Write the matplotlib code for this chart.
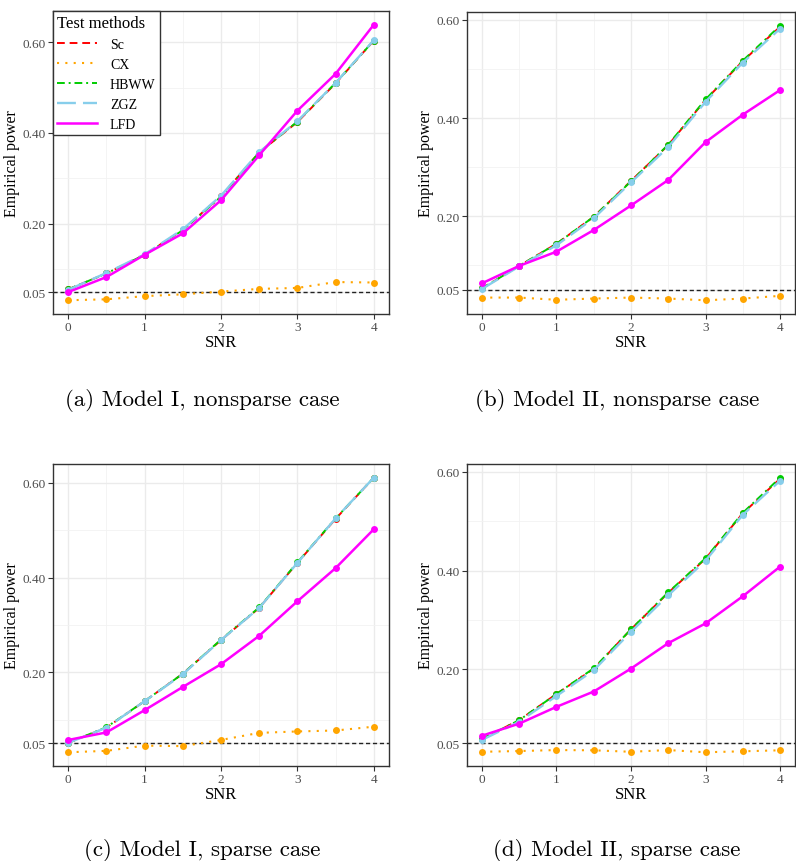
import numpy as np
import matplotlib
matplotlib.use("Agg")
import matplotlib.pyplot as plt
from matplotlib.ticker import MultipleLocator, FixedLocator

plt.rcParams['font.family'] = ['Liberation Serif', 'DejaVu Serif']

snr = [0, 0.5, 1, 1.5, 2, 2.5, 3, 3.5, 4]
methods = ['Sc', 'CX', 'HBWW', 'ZGZ', 'LFD']

# (a) Model I, nonsparse
a_sc   = [0.056, 0.091, 0.132, 0.187, 0.261, 0.357, 0.424, 0.509, 0.603]
a_cx   = [0.032, 0.034, 0.041, 0.045, 0.051, 0.057, 0.059, 0.072, 0.071]
a_hbww = [0.056, 0.091, 0.132, 0.186, 0.260, 0.357, 0.425, 0.510, 0.603]
a_zgz  = [0.055, 0.092, 0.133, 0.188, 0.262, 0.358, 0.426, 0.510, 0.604]
a_lfd  = [0.050, 0.083, 0.132, 0.179, 0.252, 0.351, 0.449, 0.530, 0.638]

# (b) Model II, nonsparse
b_sc   = [0.053, 0.099, 0.144, 0.199, 0.272, 0.345, 0.437, 0.516, 0.586]
b_cx   = [0.0345, 0.0345, 0.030, 0.0325, 0.0345, 0.0325, 0.029, 0.0325, 0.038]
b_hbww = [0.053, 0.099, 0.144, 0.199, 0.271, 0.346, 0.438, 0.517, 0.588]
b_zgz  = [0.052, 0.098, 0.141, 0.196, 0.269, 0.341, 0.433, 0.513, 0.582]
b_lfd  = [0.0635, 0.099, 0.128, 0.172, 0.222, 0.274, 0.351, 0.407, 0.457]

# (c) Model I, sparse
c_sc   = [0.051, 0.083, 0.139, 0.197, 0.268, 0.336, 0.431, 0.524, 0.611]
c_cx   = [0.031, 0.034, 0.045, 0.044, 0.057, 0.072, 0.075, 0.077, 0.085]
c_hbww = [0.051, 0.084, 0.139, 0.197, 0.269, 0.337, 0.432, 0.525, 0.611]
c_zgz  = [0.051, 0.083, 0.139, 0.196, 0.268, 0.336, 0.431, 0.525, 0.611]
c_lfd  = [0.057, 0.073, 0.120, 0.169, 0.217, 0.277, 0.350, 0.420, 0.502]

# (d) Model II, sparse
d_sc   = [0.059, 0.097, 0.150, 0.201, 0.281, 0.355, 0.424, 0.516, 0.586]
d_cx   = [0.033, 0.0345, 0.0365, 0.036, 0.033, 0.0365, 0.032, 0.034, 0.036]
d_hbww = [0.059, 0.097, 0.150, 0.202, 0.281, 0.356, 0.425, 0.517, 0.588]
d_zgz  = [0.057, 0.094, 0.146, 0.198, 0.276, 0.350, 0.420, 0.513, 0.582]
d_lfd  = [0.0655, 0.090, 0.124, 0.155, 0.2015, 0.253, 0.293, 0.348, 0.408]

panels = [
    ('(a) Model I, nonsparse case', [a_sc, a_cx, a_hbww, a_zgz, a_lfd]),
    ('(b) Model II, nonsparse case', [b_sc, b_cx, b_hbww, b_zgz, b_lfd]),
    ('(c) Model I, sparse case', [c_sc, c_cx, c_hbww, c_zgz, c_lfd]),
    ('(d) Model II, sparse case', [d_sc, d_cx, d_hbww, d_zgz, d_lfd]),
]

colors = ['#FF0000', '#FFA500', '#00CD00', '#87CEEB', '#FF00FF']
styles = [(0, (4, 2.5)), (0, (1, 3)), (0, (4, 2, 1, 2)), (0, (8, 3)), '-']
widths = [1.4, 1.5, 1.4, 1.7, 1.8]

W, H = 796, 862
fig = plt.figure(figsize=(W / 100, H / 100), dpi=100)

# pixel boxes: left, right, top, bottom
boxes = [(53, 389, 12, 315), (467, 795, 13, 315),
         (53, 389, 465, 767), (467, 795, 465, 767)]
cap_pos = [(202, 401), (617, 401), (202, 851), (617, 851)]

for k, (cap, series) in enumerate(panels):
    l, r, t, b = boxes[k]
    ax = fig.add_axes([l / W, 1 - b / H, (r - l) / W, (b - t) / H])
    for i, name in enumerate(methods):
        ax.plot(snr, series[i], color=colors[i], linestyle=styles[i],
                linewidth=widths[i], marker='o', markersize=5,
                markeredgewidth=0, label=name, zorder=3 + i)
    ax.axhline(0.05, color='#222222', linestyle=(0, (3, 2)), linewidth=1.0, zorder=2)

    allv = np.concatenate([np.array(s) for s in series] + [[0.05]])
    lo, hi = allv.min(), allv.max()
    pad = 0.05 * (hi - lo)
    ax.set_ylim(lo - pad, hi + pad)
    ax.set_xlim(-0.2, 4.2)

    ax.yaxis.set_major_locator(FixedLocator([0.05, 0.2, 0.4, 0.6]))
    ax.yaxis.set_minor_locator(FixedLocator([0.1, 0.3, 0.5]))
    ax.set_yticklabels(['0.05', '0.20', '0.40', '0.60'])
    ax.xaxis.set_major_locator(MultipleLocator(1))
    ax.xaxis.set_minor_locator(MultipleLocator(0.5))

    ax.grid(which='major', color='#EBEBEB', linewidth=1.0)
    ax.grid(which='minor', color='#F2F2F2', linewidth=0.6)
    ax.set_axisbelow(True)
    ax.tick_params(which='minor', length=0)
    ax.tick_params(which='major', length=3.5, color='#333333', labelsize=9.5,
                   labelcolor='#4D4D4D', pad=1.5)
    for s in ax.spines.values():
        s.set_color('#333333')
        s.set_linewidth(1.0)

    ax.set_xlabel('SNR', fontsize=12, labelpad=1)
    ax.set_ylabel('Empirical power', fontsize=11.5, labelpad=2)

    if k == 0:
        leg = ax.legend(title='Test methods', loc='upper left',
                        bbox_to_anchor=(0, 1), borderaxespad=0,
                        fancybox=False, edgecolor='#333333', framealpha=1,
                        fontsize=10, title_fontsize=12, handlelength=2.9,
                        handletextpad=0.9, alignment='left',
                        labelspacing=0.5, borderpad=0.3)
        leg.get_frame().set_linewidth(1.0)
        for h in leg.legend_handles:
            h.set_marker('')

    cx, cy = cap_pos[k]
    fig.text(cx / W, 1 - cy / H, cap, ha='center', va='center',
             fontsize=16.5, family='cmr10')

fig.savefig('out.png', dpi=100)
